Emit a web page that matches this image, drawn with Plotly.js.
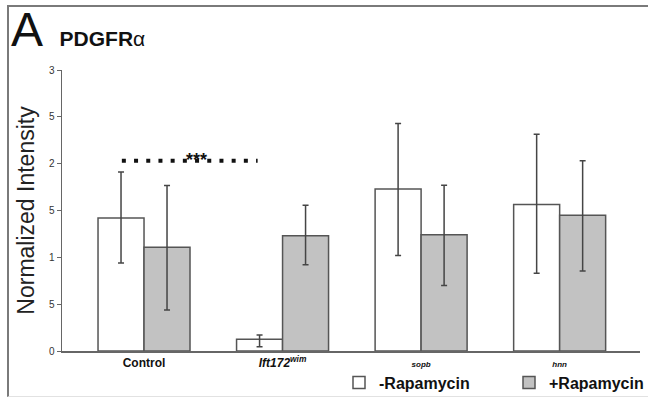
<!DOCTYPE html>
<html>
<head>
<meta charset="utf-8">
<script src="https://cdn.plot.ly/plotly-3.0.1.min.js"></script>
<style>
  html, body { margin: 0; padding: 0; background: #fff; }
  #frame { position: absolute; left: 7px; top: 5px; width: 660px; height: 389px;
           border-left: 2px solid #7a7a7a; border-top: 2px solid #7a7a7a; border-bottom: 1px solid #e2e2e2; }
  #chart { position: absolute; left: 0; top: 0; width: 648px; height: 398px; }
</style>
</head>
<body>
<div id="frame"></div>
<div id="chart"></div>
<script>
// ---- data ----
const categories = ['Control', 'Ift172wim', 'sopb', 'hnn'];
const tickLabels = [
  '<b>Control</b>',
  '<b><i>Ift172<sup>wim</sup></i></b>',
  '<span style="font-size:8px"><b><i>sopb</i></b></span>',
  '<span style="font-size:8px"><b><i>hnn</i></b></span>'
];
const minusRapa = [1.42, 0.125, 1.73, 1.565];
const minusRapaErrUp = [0.49, 0.045, 0.70, 0.75];
const minusRapaErrDown = [0.48, 0.08, 0.71, 0.735];
const plusRapa = [1.107, 1.23, 1.24, 1.45];
const plusRapaErrUp = [0.66, 0.325, 0.53, 0.58];
const plusRapaErrDown = [0.67, 0.31, 0.54, 0.595];
const yTickVals = [0, 0.5, 1, 1.5, 2, 2.5, 3];
const yTickText = ['0', '5', '1', '5', '2', '5', '3'];
const seriesNames = ['-Rapamycin', '+Rapamycin'];
const sigLabel = '***';
const sigFrom = -0.16, sigTo = 0.82, sigY = 2.03;

const FONT = 'Arial, "Liberation Sans", sans-serif';
const xIdx = categories.map((c, i) => i);

const errStyle = { type: 'data', symmetric: false, color: '#454545', thickness: 1.5, width: 3 };

const traces = [
  {
    type: 'bar', name: seriesNames[0], x: xIdx, y: minusRapa,
    marker: { color: '#ffffff', line: { color: '#555555', width: 1.5 } },
    error_y: Object.assign({ array: minusRapaErrUp, arrayminus: minusRapaErrDown }, errStyle),
    hoverinfo: 'skip'
  },
  {
    type: 'bar', name: seriesNames[1], x: xIdx, y: plusRapa,
    marker: { color: '#c2c2c2', line: { color: '#555555', width: 1.5 } },
    error_y: Object.assign({ array: plusRapaErrUp, arrayminus: plusRapaErrDown }, errStyle),
    hoverinfo: 'skip'
  }
];

const layout = {
  width: 648, height: 398,
  paper_bgcolor: 'rgba(0,0,0,0)', plot_bgcolor: 'rgba(0,0,0,0)',
  margin: { l: 62, r: 8, t: 70, b: 47, pad: 0, autoexpand: false },
  font: { family: FONT, color: '#222' },
  barmode: 'group', bargap: 0.336, bargroupgap: 0,
  showlegend: true,
  title: {
    text: 'A <span style="font-size:21px">&nbsp;<b>PDGFR</b>α</span>',
    font: { family: FONT, size: 48, color: '#111' },
    x: 11 / 648, xanchor: 'left', xref: 'container',
    y: 1 - 46 / 398, yanchor: 'bottom', yref: 'container'
  },
  xaxis: {
    range: [-0.592, 3.58], tickmode: 'array', tickvals: xIdx, ticktext: tickLabels,
    showgrid: false, zeroline: false, showline: true, linecolor: '#666', linewidth: 1.5,
    ticks: '', tickfont: { family: FONT, size: 12, color: '#111' }, fixedrange: true
  },
  yaxis: {
    range: [0, 3], tickmode: 'array', tickvals: yTickVals, ticktext: yTickText,
    showgrid: false, zeroline: false, showline: true, linecolor: '#666', linewidth: 1.5,
    ticks: 'outside', ticklen: 4, tickcolor: '#666', tickwidth: 1,
    tickfont: { family: FONT, size: 10, color: '#333' },
    title: { text: 'Normalized Intensity', font: { family: FONT, size: 23, color: '#222' }, standoff: 8 },
    fixedrange: true
  },
  legend: {
    orientation: 'h', x: (339 - 62) / 578, xanchor: 'left', y: -0.052, yanchor: 'top',
    entrywidth: 125, entrywidthmode: 'pixels',
    font: { family: FONT, size: 16, color: '#111', weight: 'bold' },
    bgcolor: 'rgba(0,0,0,0)', traceorder: 'normal'
  },
  shapes: [
    { type: 'line', xref: 'x', yref: 'y', x0: sigFrom, x1: sigTo, y0: sigY, y1: sigY,
      line: { color: '#111', width: 4, dash: '4px,8.2px' } },
    { type: 'line', xref: 'paper', yref: 'y', x0: 1, x1: 1, y0: 0, y1: -0.04,
      line: { color: '#666', width: 1.5 } }
  ],
  annotations: [
    { xref: 'x', yref: 'y', x: 0.38, y: sigY + 0.01, text: '<b>' + sigLabel + '</b>', showarrow: false,
      font: { family: FONT, size: 18, color: '#111' }, xanchor: 'center', yanchor: 'middle' }
  ]
};

Plotly.newPlot('chart', traces, layout, { displayModeBar: false, staticPlot: true });
</script>
</body>
</html>
